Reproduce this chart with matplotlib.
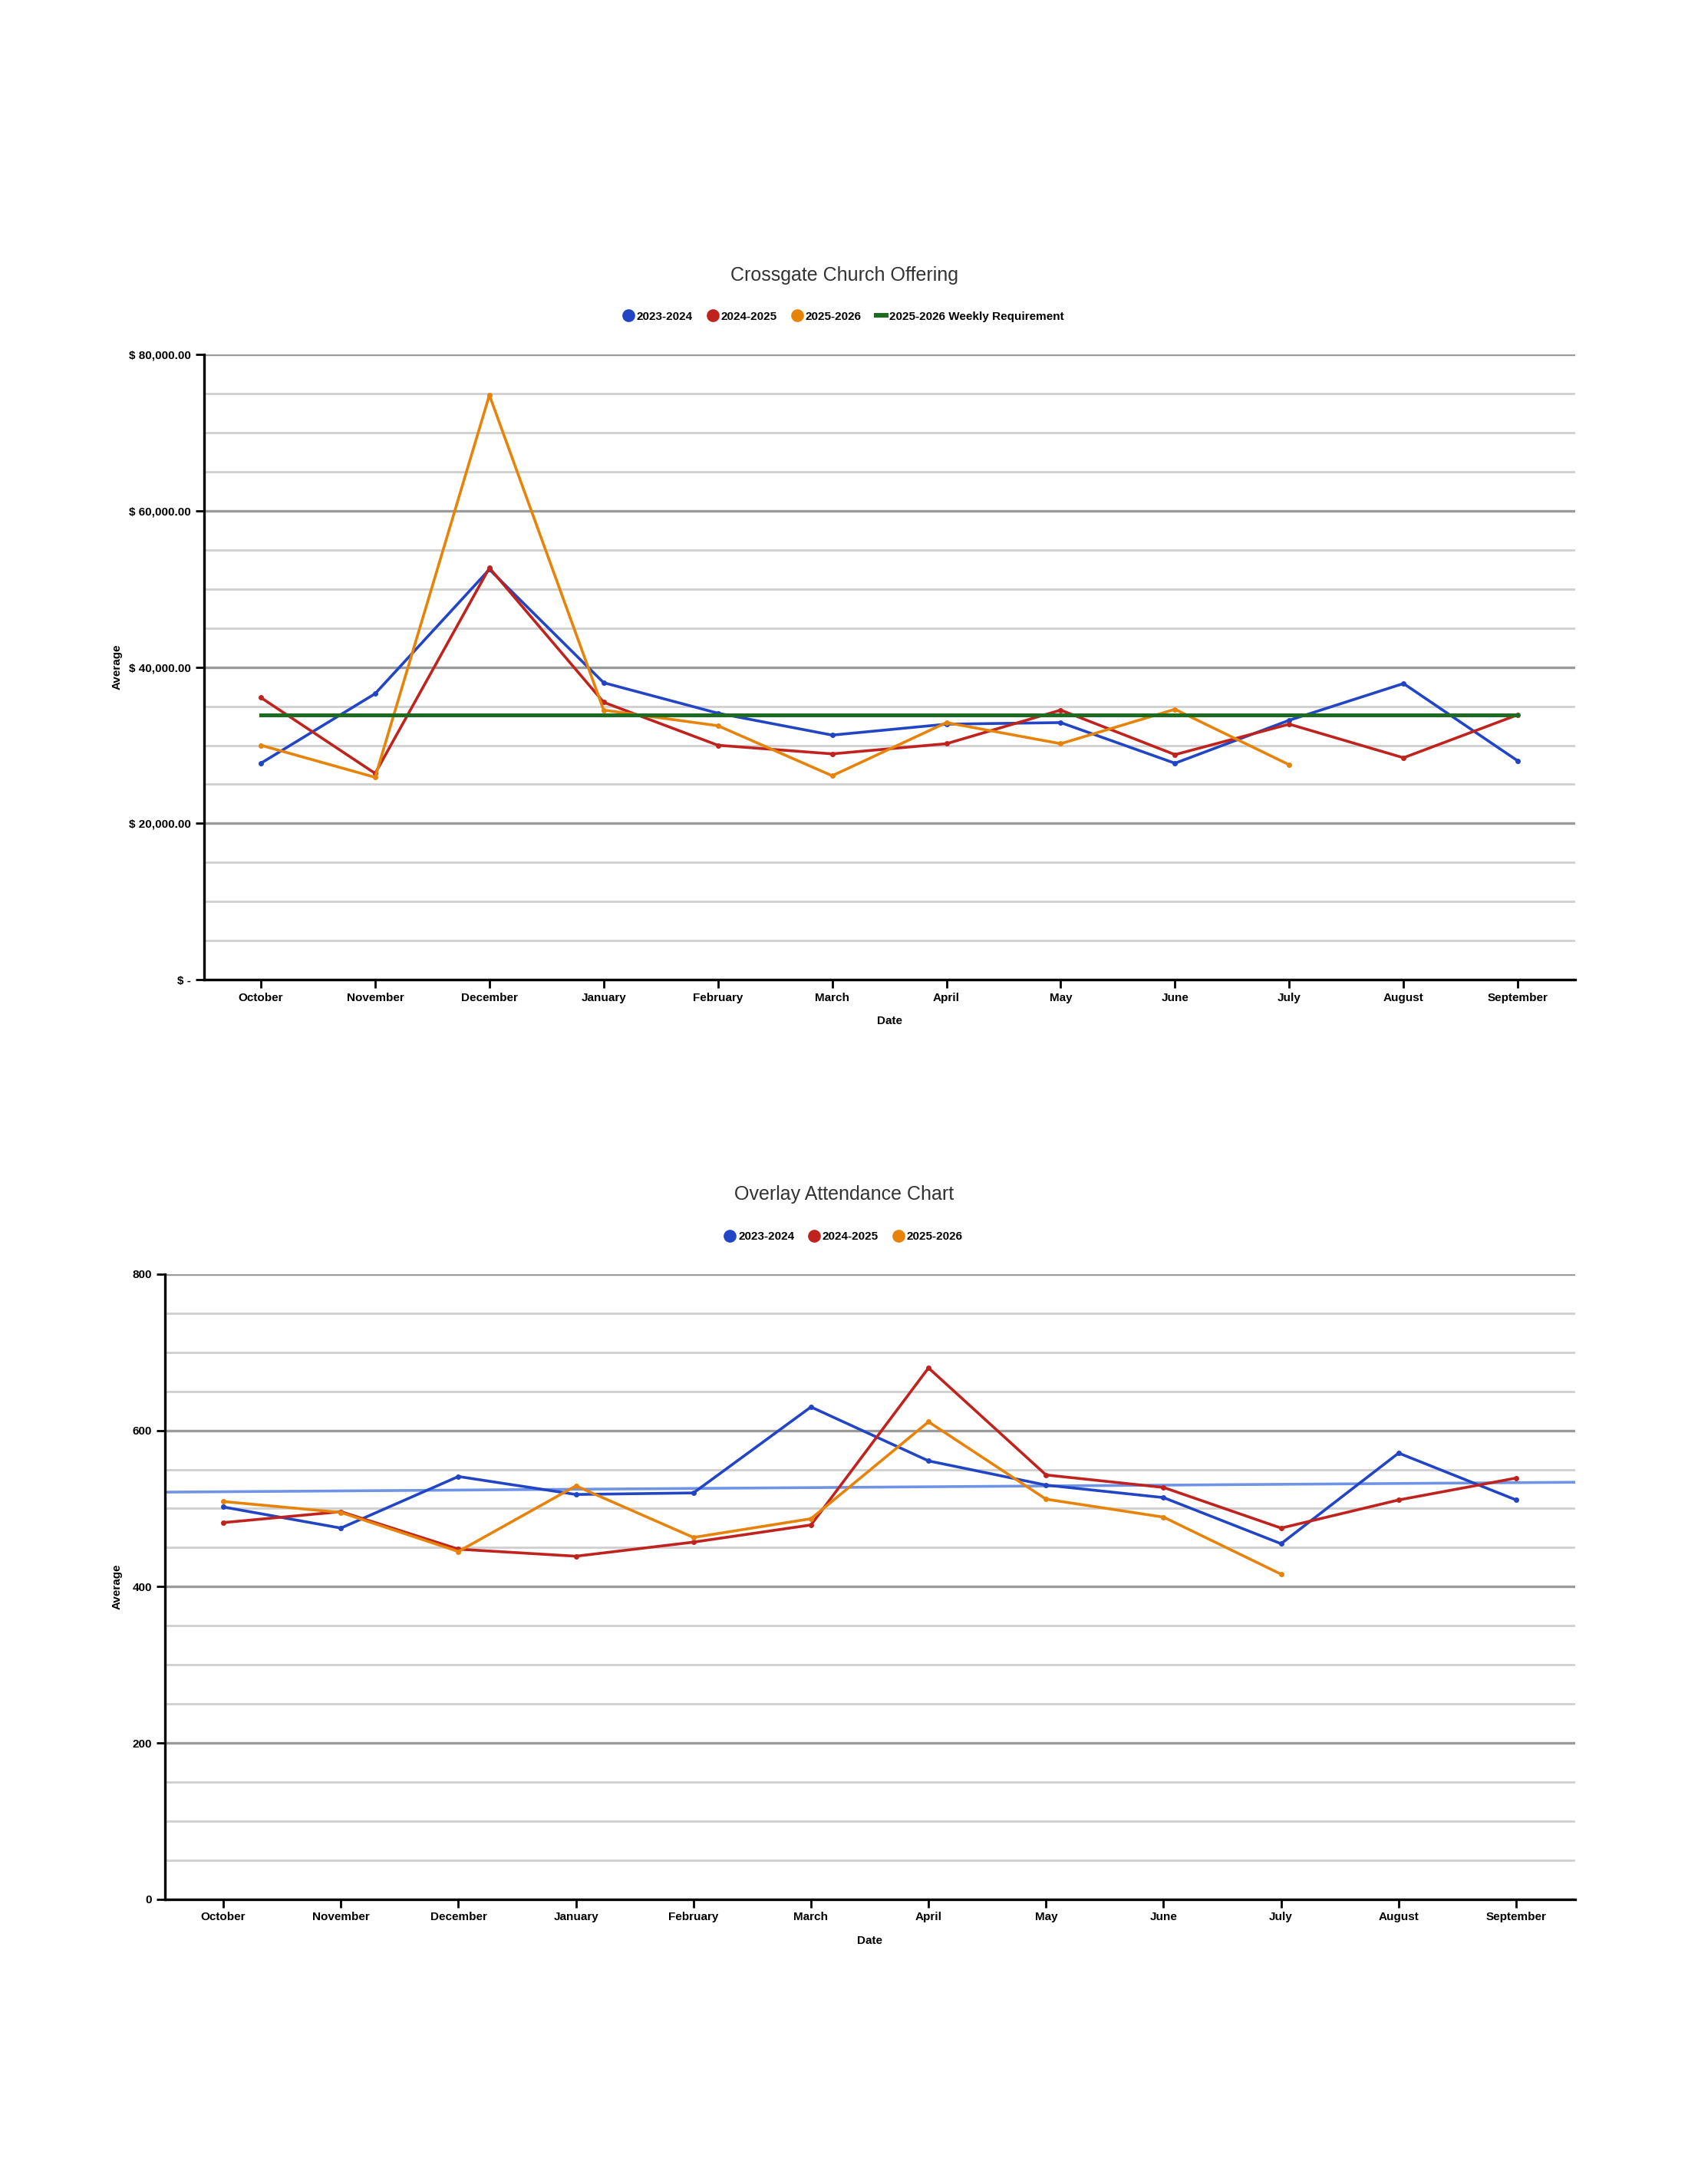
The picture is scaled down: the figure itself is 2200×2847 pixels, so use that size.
import numpy as np
import matplotlib as mpl
import matplotlib.pyplot as plt
from matplotlib.lines import Line2D
from matplotlib.ticker import FuncFormatter, MultipleLocator

mpl.rcParams["font.family"] = ["Liberation Sans", "DejaVu Sans"]

MONTHS = ["October", "November", "December", "January", "February", "March",
          "April", "May", "June", "July", "August", "September"]
SERIES = ["2023-2024", "2024-2025", "2025-2026"]

offer_2324 = [27700, 36600, 52500, 38000, 34100, 31300, 32700, 32900, 27700, 33200, 37900, 28000]
offer_2425 = [36100, 26400, 52700, 35500, 30000, 28900, 30200, 34500, 28800, 32700, 28400, 33900]
offer_2526 = [30000, 25900, 74800, 34500, 32500, 26100, 32900, 30200, 34600, 27500]
weekly_req = 33900

att_2324 = [502, 475, 541, 518, 520, 630, 561, 530, 514, 455, 571, 511]
att_2425 = [482, 496, 448, 439, 457, 479, 680, 543, 527, 475, 511, 539]
att_2526 = [509, 495, 445, 529, 463, 487, 611, 512, 489, 416]

BLUE = "#2145c4"
RED = "#c0221d"
ORANGE = "#e8830a"
GREEN = "#1e6b22"
TREND = "#6f94e6"


def style_axes(ax, major, minor, ylab_x):
    ax.yaxis.set_major_locator(MultipleLocator(major))
    ax.yaxis.set_minor_locator(MultipleLocator(minor))
    ax.grid(axis="y", which="major", color="#9a9a9a", lw=1.2)
    ax.grid(axis="y", which="minor", color="#cfcfcf", lw=1.0)
    ax.set_axisbelow(True)
    for s in ("top", "right"):
        ax.spines[s].set_visible(False)
    ax.spines["left"].set_linewidth(1.2)
    ax.spines["bottom"].set_linewidth(1.2)
    ax.tick_params(axis="both", which="major", labelsize=5.5, length=4, width=1, pad=2)
    ax.tick_params(axis="y", which="minor", length=0)
    ax.set_xticks(range(len(MONTHS)))
    ax.set_xticklabels(MONTHS, fontweight="bold")
    ax.set_xlim(-0.5, 11.5)
    ax.set_xlabel("Date", fontsize=5.5, fontweight="bold", labelpad=6)
    ax.set_ylabel("Average", fontsize=5.5, fontweight="bold")
    ax.yaxis.set_label_coords(ylab_x, 0.5)


def draw(ax, data, color):
    x = np.arange(len(data))
    ax.plot(x, data, color=color, lw=1.3, marker="o", ms=1.5)


def legend(fig, y, names, colors, extra=None):
    handles = [Line2D([], [], ls="", marker="o", ms=5, color=c) for c in colors]
    if extra:
        handles.append(Line2D([], [], color=extra[1], lw=2.2))
        names = names + [extra[0]]
    fig.legend(handles, names, loc="center", bbox_to_anchor=(0.5, y), ncol=len(names),
               frameon=False, handletextpad=0.3, columnspacing=1.3,
               handlelength=0.8, prop={"weight": "bold", "size": 5.5})


fig = plt.figure(figsize=(11, 14.235), dpi=200)

# --- offering ---
ax1 = fig.add_axes([0.1207, 0.5514, 0.8123, 0.2863])
draw(ax1, offer_2324, BLUE)
draw(ax1, offer_2425, RED)
draw(ax1, offer_2526, ORANGE)
ax1.plot(range(len(MONTHS)), [weekly_req] * len(MONTHS), color=GREEN, lw=1.8)
ax1.set_ylim(0, 80000)
style_axes(ax1, 20000, 5000, -0.059)
ax1.yaxis.set_major_formatter(FuncFormatter(lambda v, p: "$ -" if v == 0 else f"$ {v:,.2f}"))
for lbl in ax1.get_yticklabels():
    lbl.set_fontweight("bold")
fig.text(0.5, 0.874, "Crossgate Church Offering", ha="center", va="center", fontsize=9, color="#333333")
legend(fig, 0.855, SERIES, [BLUE, RED, ORANGE], extra=("2025-2026 Weekly Requirement", GREEN))

# --- attendance ---
ax2 = fig.add_axes([0.0975, 0.1304, 0.8355, 0.2862])
x_all = np.arange(len(att_2324))
coef = np.polyfit(x_all, att_2324, 1)
xt = np.array([-0.5, 11.5])
ax2.plot(xt, np.polyval(coef, xt), color=TREND, lw=1.3)
draw(ax2, att_2324, BLUE)
draw(ax2, att_2425, RED)
draw(ax2, att_2526, ORANGE)
ax2.set_ylim(0, 800)
style_axes(ax2, 200, 50, -0.03)
for lbl in ax2.get_yticklabels():
    lbl.set_fontweight("bold")
fig.text(0.5, 0.453, "Overlay Attendance Chart", ha="center", va="center", fontsize=9, color="#333333")
legend(fig, 0.4337, SERIES, [BLUE, RED, ORANGE])

fig.savefig("out.png", dpi=200)
